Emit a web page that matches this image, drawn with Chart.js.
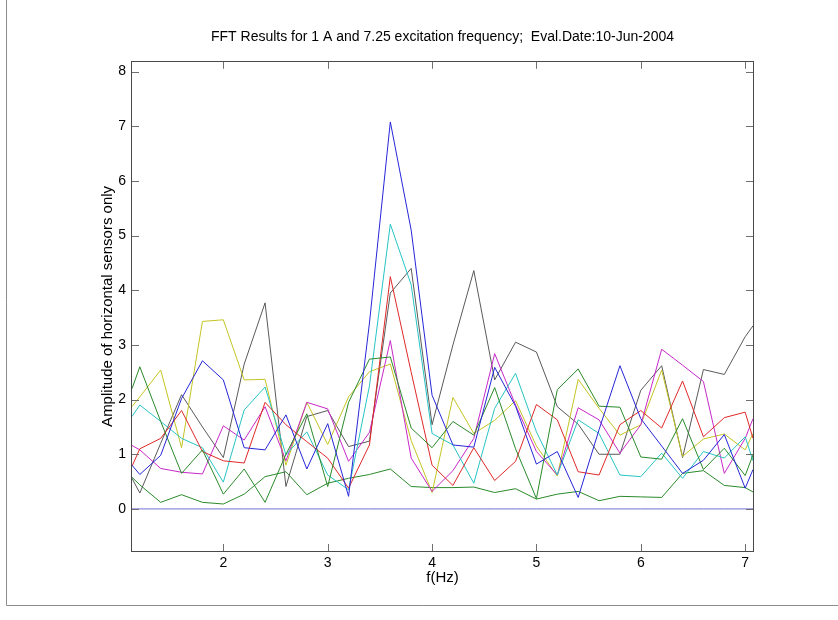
<!DOCTYPE html>
<html>
<head>
<meta charset="utf-8">
<script src="https://cdn.jsdelivr.net/npm/chart.js@4.4.1/dist/chart.umd.min.js"></script>
<style>
    body { margin: 0; background: #fff; }
    #wrap { position: relative; width: 838px; height: 620px; }
</style>
</head>
<body>
<div id="wrap"><canvas id="fftChart" width="838" height="620"></canvas></div>
<script>
// frequency axis (first / last entries sit on the axis edges)
const freqs = [1.125, 1.2, 1.4, 1.6, 1.8, 2.0, 2.2, 2.4, 2.6, 2.8, 3.0, 3.2, 3.4, 3.6, 3.8, 4.0,
    4.2, 4.4, 4.6, 4.8, 5.0, 5.2, 5.4, 5.6, 5.8, 6.0, 6.2, 6.4, 6.6, 6.8, 7.0, 7.075];

// amplitudes per sensor
const sensorB = [0.80, 0.63, 0.98, 2.02, 2.71, 2.36, 1.12, 1.08, 1.72, 0.73, 1.56, 0.23, 3.40, 7.08, 5.10, 2.08,
    1.17, 1.13, 2.59, 1.88, 0.82, 1.05, 0.21, 1.45, 2.62, 1.65, 1.15, 0.65, 0.89, 1.36, 0.38, 0.72];
const sensorG = [2.20, 2.60, 1.60, 0.65, 1.08, 0.27, 0.73, 0.12, 1.00, 1.74, 0.41, 1.95, 2.74, 2.78, 1.48, 1.12,
    1.60, 1.35, 2.22, 1.10, 0.19, 2.18, 2.56, 1.88, 1.86, 0.95, 0.91, 1.65, 0.72, 1.11, 0.61, 0.99];
const sensorR = [0.78, 1.10, 1.29, 1.80, 1.05, 0.88, 0.84, 1.95, 1.54, 1.23, 0.93, 0.38, 1.17, 4.25, 2.50, 0.80,
    0.43, 1.12, 0.52, 0.87, 1.91, 1.63, 0.68, 0.62, 1.54, 1.80, 1.48, 2.34, 1.32, 1.67, 1.77, 1.29];
const sensorC = [1.69, 1.90, 1.60, 1.29, 1.12, 0.49, 1.81, 2.23, 0.99, 1.41, 0.62, 0.35, 2.25, 5.21, 4.10, 1.38,
    1.17, 0.47, 1.84, 2.48, 1.41, 0.62, 1.63, 1.38, 0.62, 0.59, 1.02, 0.56, 1.05, 0.93, 1.32, 0.88];
const sensorM = [1.16, 1.08, 0.74, 0.67, 0.64, 1.52, 1.26, 1.87, 0.88, 1.95, 1.83, 0.87, 1.40, 3.08, 0.93, 0.32,
    0.70, 1.29, 2.84, 1.90, 1.05, 0.62, 1.85, 1.63, 1.02, 1.54, 2.92, 2.63, 2.33, 0.65, 1.29, 1.65];
const sensorY = [1.87, 2.05, 2.54, 1.12, 3.43, 3.46, 2.36, 2.37, 0.80, 1.95, 1.18, 2.05, 2.51, 2.65, 1.25, 0.30,
    2.04, 1.38, 1.62, 1.98, 1.15, 0.60, 2.37, 1.84, 1.35, 1.54, 2.54, 0.96, 1.28, 1.37, 1.08, 1.38];
const sensorK = [0.56, 0.29, 1.20, 2.09, 1.50, 0.94, 2.65, 3.77, 0.41, 1.69, 1.80, 1.14, 1.24, 3.95, 4.40, 1.54,
    3.00, 4.36, 2.36, 3.05, 2.87, 1.87, 1.55, 1.00, 1.00, 2.17, 2.62, 0.94, 2.55, 2.46, 3.15, 3.35];
const sensorZero = [0, 0, 0, 0, 0, 0, 0, 0, 0, 0, 0, 0, 0, 0, 0, 0,
    0, 0, 0, 0, 0, 0, 0, 0, 0, 0, 0, 0, 0, 0, 0, 0];
const sensorLow = [0.58, 0.44, 0.12, 0.26, 0.12, 0.09, 0.27, 0.59, 0.68, 0.26, 0.47, 0.56, 0.63, 0.73, 0.41, 0.39,
    0.39, 0.40, 0.30, 0.37, 0.18, 0.27, 0.32, 0.15, 0.23, 0.22, 0.21, 0.65, 0.70, 0.43, 0.39, 0.31];

const xTicks = [2, 3, 4, 5, 6, 7];
const yTicks = [0, 1, 2, 3, 4, 5, 6, 7, 8];

const series = [
    { values: sensorB, color: '#2626d8' },
    { values: sensorG, color: '#2a8a2a' },
    { values: sensorR, color: '#e02828' },
    { values: sensorC, color: '#28c4c4' },
    { values: sensorM, color: '#c828c8' },
    { values: sensorY, color: '#c4c424' },
    { values: sensorK, color: '#5a5a5a' },
    { values: sensorZero, color: '#6e6ed8' },
    { values: sensorLow, color: '#2a8a2a' }
];

const FONT = "'Liberation Sans', Arial, Helvetica, sans-serif";

// MATLAB-like box with inward ticks on all four sides
const boxPlugin = {
    id: 'boxPlugin',
    afterDraw(chart) {
        const { ctx, chartArea: a, scales } = chart;
        const len = 7;
        ctx.save();
        ctx.strokeStyle = '#4a4a4a';
        ctx.lineWidth = 1;
        ctx.strokeRect(Math.round(a.left) - 0.5, Math.round(a.top) - 0.5,
            Math.round(a.right - a.left) + 1, Math.round(a.bottom - a.top) + 1);
        ctx.strokeStyle = '#707070';
        ctx.beginPath();
        xTicks.forEach(v => {
            const px = Math.round(scales.x.getPixelForValue(v)) + 0.5;
            ctx.moveTo(px, a.bottom); ctx.lineTo(px, a.bottom - len);
            ctx.moveTo(px, a.top); ctx.lineTo(px, a.top + len);
        });
        yTicks.forEach(v => {
            const py = Math.round(scales.y.getPixelForValue(v)) + 0.5;
            ctx.moveTo(a.left, py); ctx.lineTo(a.left + len, py);
            ctx.moveTo(a.right, py); ctx.lineTo(a.right - len, py);
        });
        ctx.stroke();
        // figure window frame
        ctx.strokeStyle = '#8c8c8c';
        ctx.beginPath();
        ctx.moveTo(6.5, 0); ctx.lineTo(6.5, 605.5); ctx.lineTo(838, 605.5);
        ctx.stroke();
        ctx.restore();
    }
};

const ctx = document.getElementById('fftChart').getContext('2d');
new Chart(ctx, {
    type: 'line',
    data: {
        datasets: series.map(s => ({
            data: freqs.map((f, i) => ({ x: f, y: s.values[i] })),
            borderColor: s.color,
            borderWidth: 1,
            pointRadius: 0,
            tension: 0,
            fill: false
        }))
    },
    options: {
        responsive: false,
        animation: false,
        events: [],
        layout: { padding: { left: 0, right: 85, top: 0, bottom: 0 } },
        plugins: {
            legend: { display: false },
            tooltip: { enabled: false },
            title: {
                display: true,
                fullSize: false,
                text: 'FFT Results for 1 A and 7.25 excitation frequency;  Eval.Date:10-Jun-2004',
                color: '#000',
                font: { family: FONT, size: 14, weight: 'normal' },
                padding: { top: 29, bottom: 16 }
            }
        },
        scales: {
            x: {
                type: 'linear',
                min: 1.125,
                max: 7.075,
                afterBuildTicks: s => { s.ticks = xTicks.map(v => ({ value: v })); },
                afterFit: s => { s.height = 69; },
                grid: { display: false, drawTicks: false },
                border: { display: false },
                ticks: { color: '#000', padding: 4, font: { family: FONT, size: 14 }, maxRotation: 0 },
                title: {
                    display: true,
                    text: 'f(Hz)',
                    color: '#000',
                    font: { family: FONT, size: 15 },
                    padding: { top: 0, bottom: 33 }
                }
            },
            y: {
                type: 'linear',
                min: -0.77,
                max: 8.18,
                afterBuildTicks: s => { s.ticks = yTicks.map(v => ({ value: v })); },
                afterFit: s => { s.width = 132; },
                grid: { display: false, drawTicks: false },
                border: { display: false },
                ticks: { color: '#000', padding: 6, font: { family: FONT, size: 14 } },
                title: {
                    display: true,
                    text: 'Amplitude of horizontal sensors only',
                    color: '#000',
                    font: { family: FONT, size: 15 },
                    padding: { top: 99, bottom: 0 }
                }
            }
        }
    },
    plugins: [boxPlugin]
});
</script>
</body>
</html>
